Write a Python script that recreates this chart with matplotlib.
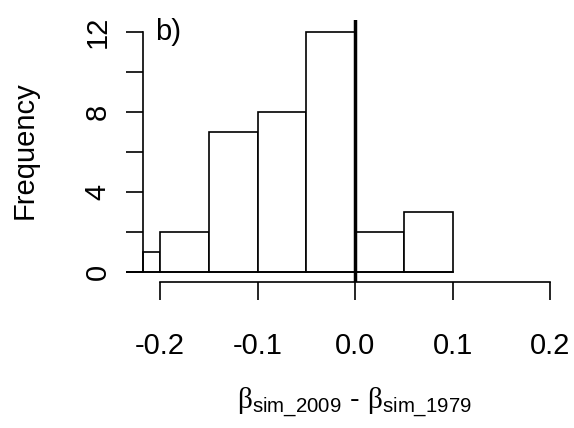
import numpy as np
import matplotlib.pyplot as plt

plt.rcParams['font.family'] = ['Liberation Sans', 'DejaVu Sans']
plt.rcParams['mathtext.fontset'] = 'custom'
plt.rcParams['mathtext.rm'] = 'Liberation Sans'
plt.rcParams['mathtext.sf'] = 'Liberation Serif'

# histogram bins (left edges) and counts
bin_edges = [-0.235, -0.2175, -0.2, -0.15, -0.1, -0.05, 0.0, 0.05, 0.1]
counts = [0, 1, 2, 7, 8, 12, 2, 3]

xticks = [-0.2, -0.1, 0.0, 0.1, 0.2]
yticks = [0, 2, 4, 6, 8, 10, 12]
ylabels = ['0', '', '4', '', '8', '', '12']

fig = plt.figure(figsize=(5.74, 4.28), dpi=100)
ax = fig.add_axes([126/574, 1 - 282/428, (565 - 126)/574, (282 - 20)/428])

lw = 1.2
left = np.array(bin_edges[:-1])
width = np.diff(bin_edges)
ax.bar(left, counts, width=width, align='edge', facecolor='white',
       edgecolor='black', linewidth=lw)
ax.axhline(0, xmin=0, xmax=(bin_edges[-1] + 0.235) / (0.2154 + 0.235),
           color='black', linewidth=lw)
ax.axvline(0, color='black', linewidth=2.5)

ax.set_xlim(-0.235, 0.2154)
ax.set_ylim(-0.5, 12.6)

for s in ['top', 'right']:
    ax.spines[s].set_visible(False)
ax.spines['left'].set_position(('data', -0.2175))
ax.spines['left'].set_bounds(0, 12)
ax.spines['bottom'].set_bounds(-0.2, 0.2)
ax.spines['left'].set_linewidth(lw)
ax.spines['bottom'].set_linewidth(lw)

ax.set_xticks(xticks)
ax.set_xticklabels(['-0.2', '-0.1', '0.0', '0.1', '0.2'])
ax.set_yticks(yticks)
ax.set_yticklabels(ylabels, rotation=90, va='center')
ax.tick_params(axis='x', length=13, width=lw, pad=23, labelsize=21)
ax.tick_params(axis='y', length=12.5, width=lw, pad=10, labelsize=21)

fig.text(25/574, 1 - 150/428, 'Frequency', rotation=90, ha='center',
         va='center', fontsize=21)
fig.text(155/574, 1 - 32/428, 'b)', ha='left', va='center', fontsize=21)
fig.text(354/574, 1 - 403/428,
         r'$\mathsf{\beta}_{\mathrm{sim\_2009}}$ - $\mathsf{\beta}_{\mathrm{sim\_1979}}$',
         ha='center', va='center', fontsize=21)

fig.savefig('out.png', dpi=100)
